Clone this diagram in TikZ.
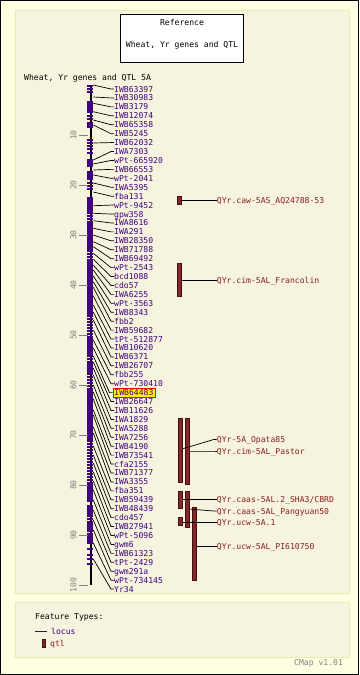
\documentclass[tikz,border=0pt]{standalone}
\usepackage{fontspec}
\setmonofont{DejaVu Sans Mono}
\definecolor{locus}{RGB}{64,0,128}
\definecolor{qtlfill}{RGB}{130,40,40}
\definecolor{qtldraw}{RGB}{70,15,15}
\definecolor{qtltext}{RGB}{140,30,30}
\definecolor{outerbg}{RGB}{255,255,225}
\definecolor{panelbg}{RGB}{246,244,222}
\definecolor{panelborder}{RGB}{238,234,175}
\definecolor{axisgray}{RGB}{128,128,128}
\begin{document}
\begin{tikzpicture}[x=1pt,y=-1pt,
  every node/.style={font=\ttfamily\fontsize{8.1}{9}\selectfont, inner sep=0pt},
  lbl/.style={anchor=west,text=locus,text height=6pt,text depth=0pt},
  hl/.style={anchor=west,text=locus,text height=6pt,text depth=0pt,fill=yellow,draw=red,line width=0.8pt,inner xsep=1.5pt,inner ysep=1.5pt},
  conn/.style={draw=black,line width=0.7pt},
  qbar/.style={fill=qtlfill,draw=qtldraw,line width=0.6pt},
  qlbl/.style={anchor=west,text=qtltext,text height=6pt,text depth=0pt},
  blk/.style={fill=locus}]
% background and panels
\fill[outerbg] (0,0) rectangle (359,675);
\draw[black,line width=1pt] (0.5,0.5) rectangle (358.5,674.5);
\filldraw[fill=panelbg,draw=panelborder,line width=1pt] (15,10) rectangle (349,593);
\filldraw[fill=panelbg,draw=panelborder,line width=1pt] (15,602) rectangle (349,657);
% reference box
\node[draw=black,fill=white,line width=0.8pt,minimum width=123pt,minimum height=48pt] (refbox) at (182,38.2) {};
\node (ref1) at (182,22.3) {Reference};
\node (ref2) at (182,45.7) {Wheat, Yr genes and QTL};
\node[anchor=west,text height=6pt,text depth=0pt] (title) at (24,77.5) {Wheat, Yr genes and QTL 5A};
% chromosome
\fill[black] (89.5,85) rectangle (91.5,585);
\foreach \a/\b in {100.7/113.3,121.7/128.3,159/167,171/180,196.7/212,223/250,260/315,337/355,363/373,390/440,483/502,505/515,523/532,533/542}
  \fill[blk] (87.3,\a) rectangle (93.3,\b);
\foreach \a/\b in {85/92,115/119,182/190,212/223,250/260,315/337,355/363,373/390,440/483,515/523}{
  \pgfmathtruncatemacro\n{(\b-\a)/3}
  \foreach \k in {0,...,\n}
    \fill[blk] (87.3,{\a+3*\k}) rectangle (93.3,{\a+3*\k+1.6});
}
\foreach \y in {140,143,146,149,152.7,543,549,555,559,564}
  \fill[blk] (87.3,\y-0.8) rectangle (93.3,\y+0.8);
% axis
\foreach \k in {1,...,10}{
  \draw[axisgray,line width=0.8pt] (79,{85+50*\k}) -- (88,{85+50*\k});
  \pgfmathtruncatemacro\v{10*\k}
  \node[rotate=90,text=axisgray] (t\k) at (73.5,{85+50*\k}) {\v};
}
% markers and labels
\foreach \i/\ys/\t in {1/85/IWB63397,2/97/IWB30983,3/103.3/IWB3179,4/111.7/IWB12074,5/120/IWB65358,6/125/IWB5245,7/143/IWB62032,8/160/IWA7303,9/164/wPt-665920,10/170/IWB66553,11/175/wPt-2041,12/183/IWA5395,13/192/fba131,14/205.7/wPt-9452,15/213.3/gpw358,16/220.7/IWA8616,17/228.3/IWA291,18/235/IWB28350,19/241.7/IWB71788,20/246.7/IWB69492,21/253.3/wPt-2543,22/259.3/bcd1088,23/265/cdo57,24/270/IWA6255,25/276/wPt-3563,26/281.7/IWB8343,27/287.3/fbb2,28/296/IWB59682,29/305/tPt-512877,30/312/IWB10620,31/320/IWB6371,32/330/IWB26707,33/340/fbb255,34/348/wPt-730410,35/356/IWB64483,36/362/IWB26647,37/368/IWB11626,38/375/IWA1829,39/385/IWA5288,40/392/IWA7256,41/399/IWB4190,42/410/IWB73541,43/415/cfa2155,44/427/IWB71377,45/433/IWA3355,46/446/fba351,47/455/IWB59439,48/463/IWB48439,49/472/cdo457,50/481/IWB27941,51/490/wPt-5096,52/500/gwm6,53/510/IWB61323,54/520/tPt-2429,55/530/gwm291a,56/543/wPt-734145,57/559/Yr34}{
  \coordinate (m\i) at (93.3,\ys);
  \ifnum\i=35
    \node[hl] (l\i) at (112.5,{89+(\i-1)*8.93}) {\t};
  \else
    \node[lbl] (l\i) at (114,{89+(\i-1)*8.93}) {\t};
  \fi
  \draw[conn] (m\i) -- ([xshift=-3pt]l\i.west) -- (l\i.west);
}
% QTL bars
\filldraw[qbar] (177.5,196) rectangle (181.5,204); \coordinate (q1) at (181.5,200);
\filldraw[qbar] (177.5,263.5) rectangle (181.5,296.5); \coordinate (q2) at (181.5,280);
\filldraw[qbar] (178,418) rectangle (182,482); \coordinate (q3) at (182,449);
\filldraw[qbar] (185,418) rectangle (189,484); \coordinate (q4) at (189,451);
\filldraw[qbar] (178,491) rectangle (182,508.5); \coordinate (q5) at (182,499.5);
\filldraw[qbar] (185,491.5) rectangle (189,527); \coordinate (q6) at (189,509);
\filldraw[qbar] (192.5,507.5) rectangle (196,580); \coordinate (q7) at (196,546);
\filldraw[qbar] (178,517.5) rectangle (182,525); \coordinate (q8) at (182,522);
\node[qlbl] (ql1) at (216.7,200) {QYr.caw-5AS\_AQ24788-53};
\node[qlbl] (ql2) at (216.7,280) {QYr.cim-5AL\_Francolin};
\node[qlbl] (ql3) at (216.7,439.5) {QYr-5A\_Opata85};
\node[qlbl] (ql4) at (216.7,451) {QYr.cim-5AL\_Pastor};
\node[qlbl] (ql5) at (216.7,499.5) {QYr.caas-5AL.2\_SHA3/CBRD};
\node[qlbl] (ql6) at (216.7,511) {QYr.caas-5AL\_Pangyuan50};
\node[qlbl] (ql8) at (216.7,522) {QYr.ucw-5A.1};
\node[qlbl] (ql7) at (216.7,546) {QYr.ucw-5AL\_PI610750};
\draw[conn] (q1) -- (ql1.west);
\draw[conn] (q2) -- (ql2.west);
\draw[conn] (q3) -- ([xshift=-3pt]ql3.west) -- (ql3.west);
\draw[conn] (q4) -- ([xshift=-3pt]ql4.west) -- (ql4.west);
\draw[conn] (q5) -- (ql5.west);
\draw[conn] (q6) -- ([xshift=-3pt]ql6.west) -- (ql6.west);
\draw[conn] (q8) -- (ql8.west);
\draw[conn] (q7) -- (ql7.west);
% legend
\node[anchor=west,text height=6pt,text depth=0pt] (ft) at (35,616.7) {Feature Types:};
\coordinate (lg1) at (35,631.7);
\node[lbl] (lgl) at (51,631.7) {locus};
\draw[locus,line width=0.8pt] (lg1) -- ([xshift=-4pt]lgl.west);
\node[qbar,minimum width=3pt,minimum height=8pt] (lgq) at (44,643) {};
\node[qlbl] (lgqt) at (50,643) {qtl};
\node[anchor=west,text=axisgray,text height=6pt,text depth=0pt] (cmap) at (294,662) {CMap v1.01};
\end{tikzpicture}
\end{document}
